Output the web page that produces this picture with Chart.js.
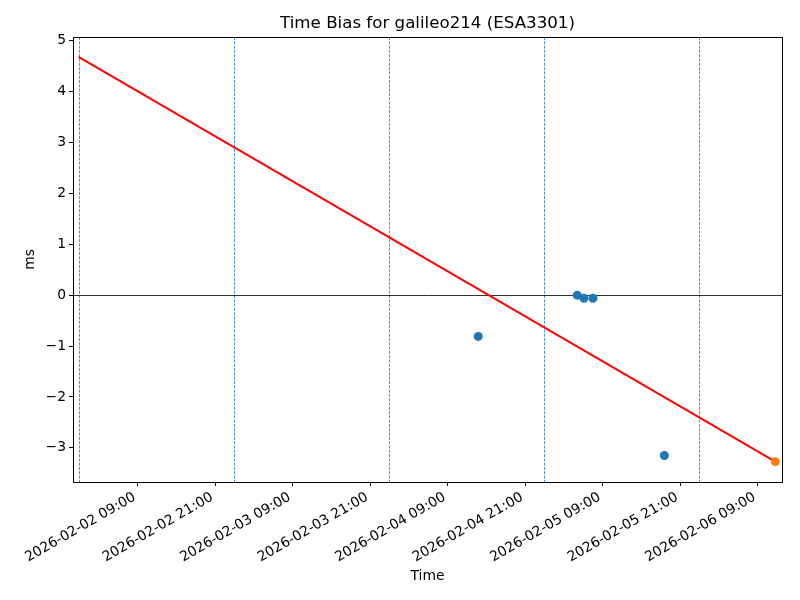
<!DOCTYPE html>
<html><head><meta charset="utf-8">
<script src="https://cdn.jsdelivr.net/npm/chart.js@4.4.1/dist/chart.umd.min.js"></script>
<style>html,body{margin:0;padding:0;background:#fff}#wrap{width:800px;height:600px;position:relative}canvas{display:block}</style>
</head><body><div id="wrap"><canvas id="c" width="800" height="600" style="width:800px;height:600px"></canvas></div>
<script>
const titleText = 'Time Bias for galileo214 (ESA3301)';
const xLabel = 'Time';
const yLabel = 'ms';
const measTimes = ['2026-02-04T13:44', '2026-02-05T05:04', '2026-02-05T06:06', '2026-02-05T07:30', '2026-02-05T18:33'];
const measValues = [-0.81, 0.00, -0.06, -0.06, -3.15];
const predTimes = ['2026-02-06T11:44'];
const predValues = [-3.27];
const fitTimes = ['2026-02-01T23:50', '2026-02-06T11:44'];
const fitValues = [4.68, -3.27];
const dayMarks = ['2026-02-02T00:00', '2026-02-03T00:00', '2026-02-04T00:00', '2026-02-05T00:00', '2026-02-06T00:00'];
const xTickLabels = ['2026-02-02 09:00', '2026-02-02 21:00', '2026-02-03 09:00', '2026-02-03 21:00', '2026-02-04 09:00', '2026-02-04 21:00', '2026-02-05 09:00', '2026-02-05 21:00', '2026-02-06 09:00'];
const yTicks = [-3, -2, -1, 0, 1, 2, 3, 4, 5];
const xRange = ['2026-02-01T22:59', '2026-02-06T12:46'];
const yRange = [-3.67, 5.07];

const toMs = s => Date.parse(s.replace(' ', 'T') + ':00Z');
const pad2 = n => String(n).padStart(2, '0');
const fmt = v => { const d = new Date(v); return d.getUTCFullYear() + '-' + pad2(d.getUTCMonth() + 1) + '-' + pad2(d.getUTCDate()) + ' ' + pad2(d.getUTCHours()) + ':' + pad2(d.getUTCMinutes()); };
const zip = (ts, vs) => ts.map((t, i) => ({ x: toMs(t), y: vs[i] }));
const FONT = 'DejaVu Sans';

const refLines = {
  id: 'refLines',
  beforeDatasetsDraw(chart) {
    const { ctx, chartArea: a, scales: { x, y } } = chart;
    ctx.save();
    ctx.beginPath(); ctx.rect(a.left, a.top, a.right - a.left, a.bottom - a.top); ctx.clip();
    ctx.strokeStyle = '#1f77b4'; ctx.lineWidth = 0.8; ctx.setLineDash([3, 1.3]);
    dayMarks.forEach(t => {
      const px = Math.floor(x.getPixelForValue(toMs(t))) + 0.5;
      ctx.beginPath(); ctx.moveTo(px, a.top); ctx.lineTo(px, a.bottom); ctx.stroke();
    });
    ctx.setLineDash([]);
    ctx.strokeStyle = '#000'; ctx.lineWidth = 0.8;
    const py = Math.round(y.getPixelForValue(0)) + 0.5;
    ctx.beginPath(); ctx.moveTo(a.left, py); ctx.lineTo(a.right, py); ctx.stroke();
    ctx.restore();
  },
  afterDraw(chart) {
    const { ctx, chartArea: a } = chart;
    ctx.save();
    ctx.strokeStyle = '#000'; ctx.lineWidth = 1;
    const l = Math.round(a.left) + 0.5, r = Math.round(a.right) + 0.5, t = Math.round(a.top) + 0.5, b = Math.round(a.bottom) + 0.5;
    ctx.strokeRect(l, t, r - l, b - t);
    ctx.restore();
  }
};

new Chart(document.getElementById('c'), {
  type: 'scatter',
  data: {
    datasets: [
      { label: 'fit', data: zip(fitTimes, fitValues), showLine: true, borderColor: '#ff0000', borderWidth: 2, pointRadius: 0, order: 3 },
      { label: 'measured', data: zip(measTimes, measValues), backgroundColor: '#1f77b4', borderColor: '#1f77b4', pointRadius: 4.5, borderWidth: 0, order: 2 },
      { label: 'predicted', data: zip(predTimes, predValues), backgroundColor: '#ff7f0e', borderColor: '#ff7f0e', pointRadius: 4.5, borderWidth: 0, order: 1 }
    ]
  },
  options: {
    responsive: false, animation: false, devicePixelRatio: 1,
    layout: { padding: { left: 0, right: 18, top: 0, bottom: 0 } },
    plugins: {
      legend: { display: false }, tooltip: { enabled: false },
      title: { display: true, fullSize: false, text: titleText, color: '#000', font: { family: FONT, size: 16.67, weight: 'normal' }, padding: { top: 14, bottom: 3 } }
    },
    scales: {
      x: {
        type: 'linear', min: toMs(xRange[0]), max: toMs(xRange[1]),
        afterBuildTicks: s => { s.ticks = xTickLabels.map(l => ({ value: toMs(l) })); },
        afterFit: s => { s.height = 118; },
        ticks: { autoSkip: false, minRotation: 30, maxRotation: 30, labelOffset: -3, color: '#000', font: { family: FONT, size: 13.89 }, padding: 3, callback: v => fmt(v) },
        grid: { display: true, drawOnChartArea: false, drawTicks: true, tickLength: 4, color: '#000', tickColor: '#000', tickWidth: 1 },
        border: { display: false },
        title: { display: true, text: xLabel, color: '#000', font: { family: FONT, size: 13.89 }, padding: { top: 15, bottom: 15 } }
      },
      y: {
        type: 'linear', min: yRange[0], max: yRange[1],
        afterBuildTicks: s => { s.ticks = yTicks.map(v => ({ value: v })); },
        afterFit: s => { s.width = 73; },
        ticks: { color: '#000', font: { family: FONT, size: 13.89 }, padding: 3, callback: v => String(v).replace('-', '\u2212') },
        grid: { display: true, drawOnChartArea: false, drawTicks: true, tickLength: 4, color: '#000', tickColor: '#000', tickWidth: 1 },
        border: { display: false },
        title: { display: true, text: yLabel, color: '#000', font: { family: FONT, size: 13.89 }, padding: { top: 22, bottom: 22 } }
      }
    }
  },
  plugins: [refLines]
});
</script></body></html>
